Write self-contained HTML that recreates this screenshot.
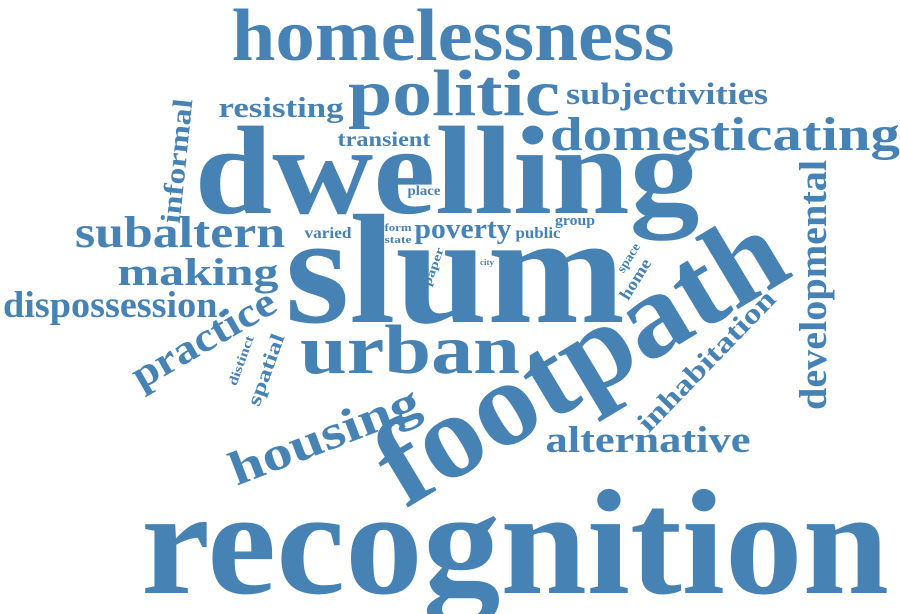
<!DOCTYPE html>
<html><head><meta charset="utf-8"><style>
html,body{margin:0;padding:0;background:#fff;}
svg{display:block;}
text{font-family:"Liberation Serif",serif;font-weight:bold;fill:#4682b4;}
</style></head><body>
<svg id="cloud" width="900" height="614" viewBox="0 0 900 614" xmlns="http://www.w3.org/2000/svg"></svg>
<script>
const words = ["homelessness","politic","resisting","subjectivities","domesticating","transient","dwelling","informal","place","subaltern","varied","form","state","poverty","public","group","slum","making","dispossession.","paper","city","space","home","footpath","developmental","urban","practice","distinct","spatial","inhabitation","housing","alternative","recognition"];
const sizes = [74,66,28,31,48,21,126,28,14,44,16,11,11,28,16,15,156,39,37,12,8,13,17,120,39,70,41,13,20,28,48,37,150];
const layout = [
 // cx, cy (baseline center), rotate, textLength
 [453,60,0,443],[454,115,0,212],[281,117,0,125],[667,104,0,202],[725,150,0,350],[384,146,0,93],
 [447,213,0,505],[186,162,-84,125],[424,195,0,33],[180,247,0,210],[328,238,0,47],[398,231,0,27],[398,243,0,27],
 [463,238,0,97],[538,238,0,45],[575,225,0,40],[455,322,0,340],[198,285,0,161],[115,317,0,224],
 [437,268,-70,40],[487,265,0,14],[632,260,-58,32],[640,282,-58,45],[600,392,-31,455],[826,285,-90,250],
 [410,373,0,220],[210,350,-30,160],[245,362,-70,52],[272,372,-70,75],[713,367,-46,185],[330,450,-21,200],
 [648,452,0,205],[515,593,0,748]
];
const svg=document.getElementById('cloud');
const NS='http://www.w3.org/2000/svg';
words.forEach((w,i)=>{
  const [x,y,r,len]=layout[i];
  const t=document.createElementNS(NS,'text');
  
  
  t.setAttribute('text-anchor','middle');
  t.setAttribute('font-size',sizes[i]);
  t.setAttribute('textLength',len);
  t.setAttribute('lengthAdjust','spacingAndGlyphs');
  t.setAttribute('transform','translate('+x+','+y+') rotate('+r+')');
  t.textContent=w;
  svg.appendChild(t);
});
</script>
</body></html>
